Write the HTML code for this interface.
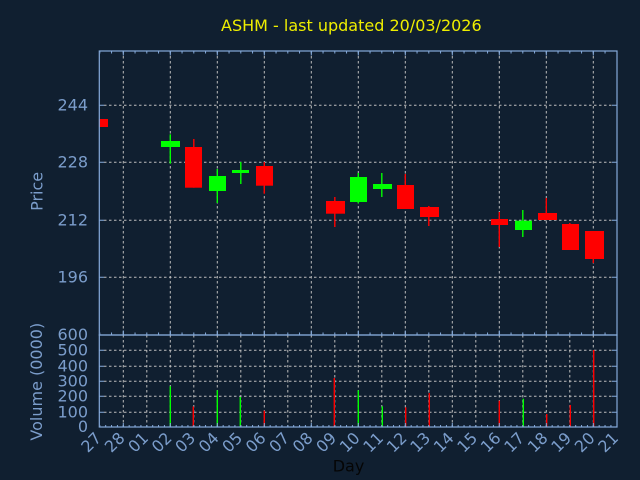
<!DOCTYPE html>
<html><head><meta charset="utf-8"><style>
html,body{margin:0;padding:0;background:#101f30;}
svg{display:block;}
text{font-family:"DejaVu Sans","Liberation Sans",sans-serif;font-size:16px;}
</style></head><body>
<svg width="640" height="480" viewBox="0 0 640 480" xmlns="http://www.w3.org/2000/svg">
<defs>
<pattern id="p12" x="99.3" y="0" width="11.75" height="480" patternUnits="userSpaceOnUse"><rect x="0" y="0" width="1" height="480" fill="#86abdb"/></pattern>
<pattern id="p6" x="99.3" y="0" width="5.875" height="480" patternUnits="userSpaceOnUse"><rect x="0" y="0" width="1" height="480" fill="#86abdb"/></pattern>
<pattern id="p47" x="122.8" y="0" width="47" height="480" patternUnits="userSpaceOnUse"><rect x="0" y="0" width="1" height="480" fill="#86abdb"/></pattern>
<clipPath id="cp"><rect x="99.5" y="51" width="517.5" height="284"/></clipPath>
</defs>
<rect width="640" height="480" fill="#101f30"/>

<!-- title -->
<text x="221" y="31" fill="#eeee00">ASHM - last updated 20/03/2026</text>

<!-- price grid -->
<g stroke="#bdbdbd" stroke-width="1" stroke-dasharray="2.5,2.5" fill="none">
<path d="M104 105.3H612M104 162.3H612M104 220.3H612M104 277.3H612"/>
<path d="M123.3 51V335M170.3 51V335M217.3 51V335M264.3 51V335M311.3 51V335M358.3 51V335M405.3 51V335M452.3 51V335M499.3 51V335M546.3 51V335M593.3 51V335"/>
<!-- volume grid -->
<path d="M104 350.3H612M104 366.3H612M104 381.3H612M104 396.3H612M104 412.3H612"/>
<path d="M123.3 335V427M146.8 335V427M170.3 335V427M193.8 335V427M217.3 335V427M240.8 335V427M264.3 335V427M287.8 335V427M311.3 335V427M334.8 335V427M358.3 335V427M381.8 335V427M405.3 335V427M428.8 335V427M452.3 335V427M475.8 335V427M499.3 335V427M522.8 335V427M546.3 335V427M569.8 335V427M593.3 335V427"/>
</g>

<!-- candles -->
<g clip-path="url(#cp)">
<g stroke-width="1.4">
<line x1="170.3" y1="134.3" x2="170.3" y2="163.7" stroke="#00ff00"/>
<line x1="193.8" y1="139" x2="193.8" y2="187.7" stroke="#ff0000"/>
<line x1="217.3" y1="169" x2="217.3" y2="203" stroke="#00ff00"/>
<line x1="240.8" y1="162" x2="240.8" y2="184" stroke="#00ff00"/>
<line x1="264.3" y1="162" x2="264.3" y2="193.7" stroke="#ff0000"/>
<line x1="334.8" y1="197" x2="334.8" y2="227" stroke="#ff0000"/>
<line x1="358.3" y1="173" x2="358.3" y2="203.3" stroke="#00ff00"/>
<line x1="381.8" y1="173" x2="381.8" y2="197" stroke="#00ff00"/>
<line x1="405.3" y1="174" x2="405.3" y2="209" stroke="#ff0000"/>
<line x1="428.8" y1="206" x2="428.8" y2="226" stroke="#ff0000"/>
<line x1="499.3" y1="212" x2="499.3" y2="247" stroke="#ff0000"/>
<line x1="522.8" y1="210" x2="522.8" y2="237" stroke="#00ff00"/>
<line x1="546.3" y1="198" x2="546.3" y2="220" stroke="#ff0000"/>
<line x1="569.8" y1="223" x2="569.8" y2="250" stroke="#ff0000"/>
<line x1="593.3" y1="231" x2="593.3" y2="263" stroke="#ff0000"/>
</g>
<rect x="91" y="119" width="17" height="8" fill="#ff0000"/>
<rect x="161" y="141" width="19" height="6" fill="#00ff00"/>
<rect x="185" y="147" width="17" height="40.7" fill="#ff0000"/>
<rect x="209" y="176" width="17" height="15" fill="#00ff00"/>
<rect x="232" y="170" width="17" height="3" fill="#00ff00"/>
<rect x="256" y="166" width="17" height="19.7" fill="#ff0000"/>
<rect x="326" y="201" width="19" height="12.7" fill="#ff0000"/>
<rect x="350" y="177" width="17" height="25" fill="#00ff00"/>
<rect x="373" y="184" width="19" height="5" fill="#00ff00"/>
<rect x="397" y="185" width="17" height="24" fill="#ff0000"/>
<rect x="420" y="207" width="19" height="10" fill="#ff0000"/>
<rect x="491" y="219" width="17" height="6" fill="#ff0000"/>
<rect x="515" y="220.7" width="17" height="9.3" fill="#00ff00"/>
<rect x="538" y="213" width="19" height="7" fill="#ff0000"/>
<rect x="562" y="224" width="17" height="26" fill="#ff0000"/>
<rect x="585" y="231" width="19" height="28" fill="#ff0000"/>
</g>

<!-- volume bars -->
<g stroke-width="1.4">
<line x1="170.3" y1="386.3" x2="170.3" y2="427" stroke="#00ff00"/>
<line x1="193.3" y1="406.5" x2="193.3" y2="427" stroke="#ff0000"/>
<line x1="217.3" y1="390.2" x2="217.3" y2="427" stroke="#00ff00"/>
<line x1="240.3" y1="397" x2="240.3" y2="427" stroke="#00ff00"/>
<line x1="264.3" y1="410.7" x2="264.3" y2="427" stroke="#ff0000"/>
<line x1="334.3" y1="378" x2="334.3" y2="427" stroke="#ff0000"/>
<line x1="358.3" y1="390.3" x2="358.3" y2="427" stroke="#00ff00"/>
<line x1="382.3" y1="406.3" x2="382.3" y2="427" stroke="#00ff00"/>
<line x1="405.7" y1="407.3" x2="405.7" y2="427" stroke="#ff0000"/>
<line x1="429.3" y1="393" x2="429.3" y2="427" stroke="#ff0000"/>
<line x1="499.3" y1="400.7" x2="499.3" y2="427" stroke="#ff0000"/>
<line x1="523.3" y1="398.7" x2="523.3" y2="427" stroke="#00ff00"/>
<line x1="546.7" y1="414" x2="546.7" y2="427" stroke="#ff0000"/>
<line x1="570.3" y1="405" x2="570.3" y2="427" stroke="#ff0000"/>
<line x1="593.7" y1="350" x2="593.7" y2="427" stroke="#ff0000"/>
</g>

<!-- ticks via patterns -->
<rect x="100" y="51" width="516" height="2.5" fill="url(#p12)"/>
<rect x="100" y="51" width="516" height="4.5" fill="url(#p47)"/>
<rect x="100" y="332.5" width="516" height="2.5" fill="url(#p12)"/>
<rect x="100" y="330.5" width="516" height="4.5" fill="url(#p47)"/>
<rect x="100" y="425" width="516" height="2" fill="url(#p6)"/>
<rect x="100" y="423" width="516" height="4" fill="url(#p47)"/>

<!-- y ticks -->
<g stroke="#86abdb" stroke-width="1" fill="none">
<path d="M99 105.3h5M99 162.3h5M99 220.3h5M99 277.3h5M617 105.3h-5M617 162.3h-5M617 220.3h-5M617 277.3h-5"/>
<path d="M99 350.3h5M99 366.3h5M99 381.3h5M99 396.3h5M99 412.3h5M617 350.3h-5M617 366.3h-5M617 381.3h-5M617 396.3h-5M617 412.3h-5"/>
</g>

<!-- axes frames -->
<g stroke="#86abdb" stroke-width="1.2" fill="none">
<rect x="99.3" y="51" width="517.7" height="284"/>
<rect x="99.3" y="335" width="517.7" height="92"/>
</g>

<!-- y labels -->
<g fill="#7b9dcb" text-anchor="end">
<text x="88" y="110.5">244</text>
<text x="88" y="167.5">228</text>
<text x="88" y="225.3">212</text>
<text x="88" y="282.3">196</text>
<text x="88" y="340">600</text>
<text x="88" y="355.3">500</text>
<text x="88" y="371.3">400</text>
<text x="88" y="386.3">300</text>
<text x="88" y="401.3">200</text>
<text x="88" y="417.3">100</text>
<text x="88" y="432">0</text>
</g>
<g fill="#7b9dcb" text-anchor="middle">
<text transform="translate(42.5,191.4) rotate(-90)">Price</text>
<text transform="translate(41.8,381.7) rotate(-90)">Volume (0000)</text>
</g>

<!-- x labels -->
<g fill="#7b9dcb" text-anchor="end">
<text transform="translate(102.3,439) rotate(-45)">27</text>
<text transform="translate(125.8,439) rotate(-45)">28</text>
<text transform="translate(149.3,439) rotate(-45)">01</text>
<text transform="translate(172.8,439) rotate(-45)">02</text>
<text transform="translate(196.3,439) rotate(-45)">03</text>
<text transform="translate(219.8,439) rotate(-45)">04</text>
<text transform="translate(243.3,439) rotate(-45)">05</text>
<text transform="translate(266.8,439) rotate(-45)">06</text>
<text transform="translate(290.3,439) rotate(-45)">07</text>
<text transform="translate(313.8,439) rotate(-45)">08</text>
<text transform="translate(337.3,439) rotate(-45)">09</text>
<text transform="translate(360.8,439) rotate(-45)">10</text>
<text transform="translate(384.3,439) rotate(-45)">11</text>
<text transform="translate(407.8,439) rotate(-45)">12</text>
<text transform="translate(431.3,439) rotate(-45)">13</text>
<text transform="translate(454.8,439) rotate(-45)">14</text>
<text transform="translate(478.3,439) rotate(-45)">15</text>
<text transform="translate(501.8,439) rotate(-45)">16</text>
<text transform="translate(525.3,439) rotate(-45)">17</text>
<text transform="translate(548.8,439) rotate(-45)">18</text>
<text transform="translate(572.3,439) rotate(-45)">19</text>
<text transform="translate(595.8,439) rotate(-45)">20</text>
<text transform="translate(619.3,439) rotate(-45)">21</text>
</g>
<text x="332.7" y="471.7" fill="#050505">Day</text>
</svg>
</body></html>
